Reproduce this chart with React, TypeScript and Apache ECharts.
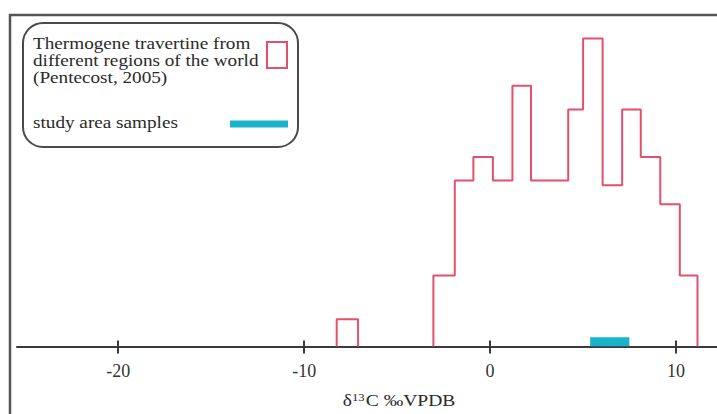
import React, { useEffect, useRef } from "react";
import * as echarts from "echarts";

// Histogram of thermogene travertine δ13C (Pentecost, 2005)
const binEdges = [-3.05, -1.9, -0.9, 0.15, 1.2, 2.2, 4.2, 5.0, 6.05, 7.1, 8.1, 9.15, 10.2, 11.15];
const binCounts = [3, 7, 8, 7, 11, 7, 10, 13, 6.8, 10, 8, 6, 3];
// isolated bin on the left
const outlierEdges = [-8.25, -7.1];
const outlierCounts = [1.15];
// study area samples range
const studyRange = [5.38, 7.49];
const xTickValues = [-20, -10, 0, 10];
const legendLines = ["Thermogene travertine from", "different regions of the world", "(Pentecost, 2005)"];
const studyLabel = "study area samples";

const RED = "#e2506c";
const CYAN = "#19b3ca";
const SERIF = "'Liberation Serif', 'Times New Roman', serif";

function stepOutline(edges: number[], counts: number[]) {
  const pts: number[][] = [[edges[0], 0]];
  counts.forEach((c, i) => {
    pts.push([edges[i], c]);
    pts.push([edges[i + 1], c]);
  });
  pts.push([edges[edges.length - 1], 0]);
  return pts;
}

export default function App() {
  const ref = useRef<HTMLDivElement>(null);
  useEffect(() => {
    if (!ref.current) return;
    const chart = echarts.init(ref.current, undefined, { renderer: "svg" });
    const xMin = -25.44;
    const xMax = 12.2;
    const legendTexts = legendLines.map((t, i) => ({
      type: "text",
      silent: true,
      x: 33,
      y: 44 + i * 17,
      scaleX: 1.2,
      style: { text: t, font: `16px ${SERIF}`, fill: "#2a2a2a", verticalAlign: "middle" },
    }));
    const option: any = {
      animation: false,
      backgroundColor: "#ffffff",
      grid: { left: 17, right: 0, top: 14.7, bottom: 67.5, containLabel: false },
      xAxis: [
        {
          type: "value",
          min: xMin,
          max: xMax,
          position: "bottom",
          axisLine: { show: true, onZero: false, lineStyle: { color: "#3a3a3a", width: 2 } },
          axisTick: { show: true, customValues: xTickValues, length: 7, lineStyle: { color: "#3a3a3a", width: 2 } },
          axisLabel: {
            show: true,
            customValues: xTickValues,
            margin: 15,
            fontSize: 18,
            fontFamily: SERIF,
            color: "#333",
          },
          splitLine: { show: false },
        },
        {
          type: "value",
          min: xMin,
          max: xMax,
          position: "bottom",
          axisLine: { show: false },
          axisTick: { show: true, inside: true, customValues: xTickValues, length: 6, lineStyle: { color: "#3a3a3a", width: 2 } },
          axisLabel: { show: false },
          splitLine: { show: false },
        },
      ],
      yAxis: { type: "value", min: 0, max: 14, show: false },
      series: [
        {
          type: "line",
          data: stepOutline(binEdges, binCounts),
          symbol: "none",
          lineStyle: { color: RED, width: 2 },
          z: 3,
        },
        {
          type: "line",
          data: stepOutline(outlierEdges, outlierCounts),
          symbol: "none",
          lineStyle: { color: RED, width: 2 },
          z: 3,
        },
        {
          type: "line",
          data: [
            [studyRange[0], 0.2],
            [studyRange[1], 0.2],
          ],
          symbol: "none",
          lineStyle: { color: CYAN, width: 9, cap: "butt" },
          z: 4,
        },
      ],
      graphic: [
        {
          type: "rect",
          silent: true,
          shape: { x: 10, y: 15, width: 780, height: 480 },
          style: { fill: "none", stroke: "#555", lineWidth: 2.5 },
        },
        {
          type: "rect",
          silent: true,
          shape: { x: 23, y: 23, width: 275, height: 124, r: 20 },
          style: { fill: "none", stroke: "#4a4a4a", lineWidth: 2 },
        },
        ...legendTexts,
        {
          type: "text",
          silent: true,
          x: 33,
          y: 123,
          scaleX: 1.2,
          style: { text: studyLabel, font: `16px ${SERIF}`, fill: "#2a2a2a", verticalAlign: "middle" },
        },
        {
          type: "rect",
          silent: true,
          shape: { x: 267, y: 42, width: 20, height: 26 },
          style: { fill: "none", stroke: RED, lineWidth: 2 },
        },
        {
          type: "line",
          silent: true,
          shape: { x1: 230, y1: 124, x2: 288, y2: 124 },
          style: { stroke: CYAN, lineWidth: 7 },
        },
        {
          type: "text",
          silent: true,
          x: 399,
          y: 400,
          scaleX: 1.15,
          style: {
            text: "δ{sup|13}C ‰VPDB",
            font: `17px ${SERIF}`,
            fill: "#2a2a2a",
            align: "center",
            verticalAlign: "middle",
            rich: {
              sup: { fontSize: 11, fontFamily: SERIF, fill: "#2a2a2a", verticalAlign: "top", padding: [0, 1, 6, 0] },
            },
          },
        },
      ],
    };
    chart.setOption(option);
    return () => chart.dispose();
  }, []);
  return (
    <div
      ref={ref}
      style={{ position: "fixed", left: 0, top: 0, width: 717, height: 414 }}
    />
  );
}
